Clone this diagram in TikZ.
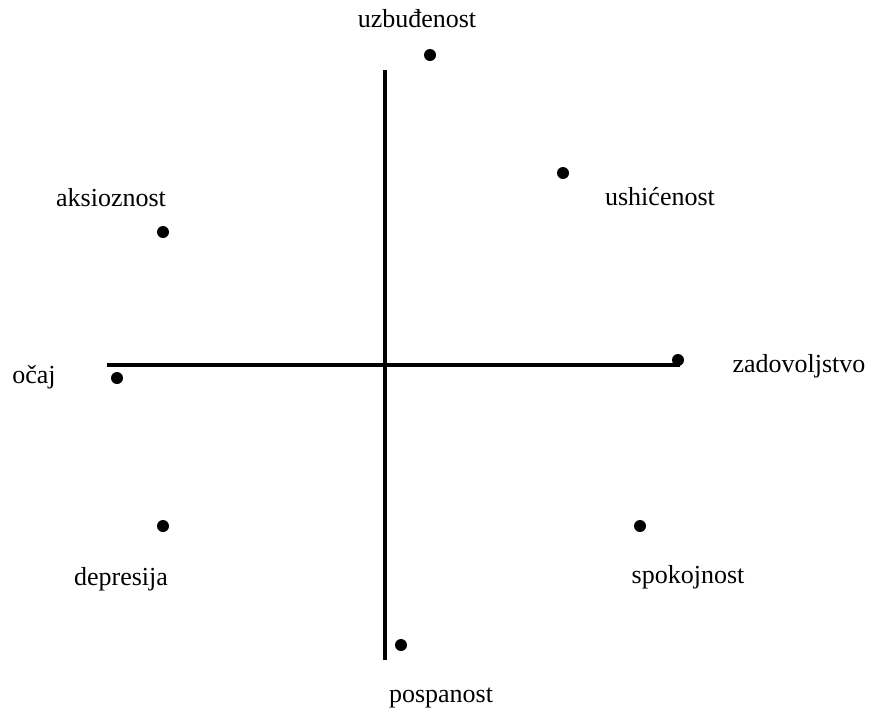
\documentclass[tikz,border=0pt]{standalone}
\usepackage{fontspec}
\setmainfont{Liberation Serif}
\begin{document}
\begin{tikzpicture}[x=1pt,y=-1pt,
  axis/.style={line width=3.5pt},
  pt/.style={circle,fill=black,inner sep=0pt,minimum size=12pt},
  lbl/.style={anchor=base,font=\fontsize{26}{30}\selectfont,inner sep=0pt}]
\useasboundingbox (0,0) rectangle (873,713);
\coordinate (vt) at (385,70);
\coordinate (vb) at (385,660);
\coordinate (hl) at (107,365);
\coordinate (hr) at (680,365);
\draw[axis] (vt) -- (vb);
\draw[axis] (hl) -- (hr);
\node[pt] (d1) at (430,55) {};
\node[pt] (d2) at (563,173) {};
\node[pt] (d3) at (163,232) {};
\node[pt] (d4) at (678,360) {};
\node[pt] (d5) at (117,378) {};
\node[pt] (d6) at (163,526) {};
\node[pt] (d7) at (640,526) {};
\node[pt] (d8) at (401,645) {};
\node[lbl] (l1) at (417,27) {uzbuđenost};
\node[lbl] (l2) at (660,205) {ushićenost};
\node[lbl] (l3) at (111,206) {aksioznost};
\node[lbl] (l4) at (799,372) {zadovoljstvo};
\node[lbl] (l5) at (34,383) {očaj};
\node[lbl] (l6) at (121,585) {depresija};
\node[lbl] (l7) at (688,583) {spokojnost};
\node[lbl] (l8) at (441,702) {pospanost};
\end{tikzpicture}
\end{document}
